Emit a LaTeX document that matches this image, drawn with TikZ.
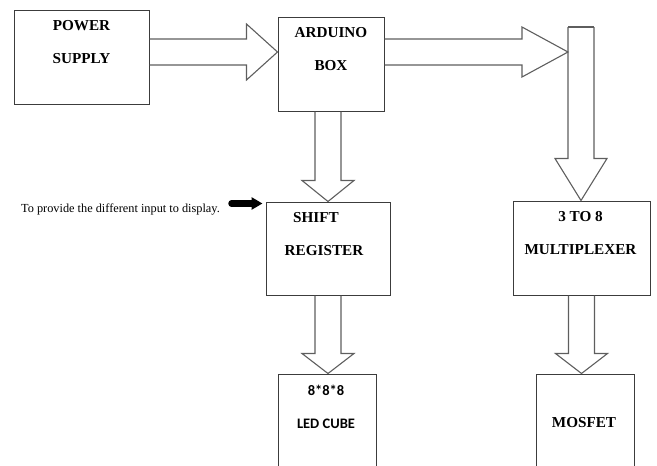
\documentclass[tikz,border=0pt]{standalone}
\usepackage{fontspec}
\setmainfont{Liberation Serif}
\newfontfamily\calib{Carlito}
\usepackage{xcolor}
\usepackage{tikz}
\usetikzlibrary{calc,arrows.meta}
\definecolor{edgex}{HTML}{3C3C3C}
\definecolor{shaftx}{HTML}{5E5E5E}
\tikzset{
  blk/.style={draw=edgex,line width=1pt,inner sep=0pt},
  lbl/.style={font=\fontsize{15.2}{33}\selectfont\bfseries,align=center,inner sep=0pt,anchor=north},
  fatarr/.style={draw=shaftx,line width=1.1pt,line join=miter},
  pointer/.style={-{Triangle[length=11pt,width=12pt]},line width=6.5pt,line cap=round,black,shorten >=3pt}
}
% horizontal block arrow: start, tip, head length, head half width
\newcommand{\harr}[4]{%
  \draw[fatarr] let \p1=(#1), \p2=(#2) in
    (\x1,\y1+13pt) -- (\x2-#3,\y1+13pt) -- (\x2-#3,\y1+#4) -- (\x2,\y1)
    -- (\x2-#3,\y1-#4) -- (\x2-#3,\y1-13pt) -- (\x1,\y1-13pt);}
% vertical block arrow (downwards)
\newcommand{\varr}[4]{%
  \draw[fatarr] let \p1=(#1), \p2=(#2) in
    (\x1-13pt,\y1) -- (\x1-13pt,\y2+#3) -- (\x1-#4,\y2+#3) -- (\x1,\y2)
    -- (\x1+#4,\y2+#3) -- (\x1+13pt,\y2+#3) -- (\x1+13pt,\y1);}

\begin{document}
\begin{tikzpicture}[x=1pt,y=-1pt]
\useasboundingbox (0,0) rectangle (657,466);
\clip (0,0) rectangle (657,466);

% blocks
\node[blk,minimum width=135,minimum height=94] (ps) at (81.5,57) {};
\node[blk,minimum width=106,minimum height=94] (ard) at (331,64) {};
\node[blk,minimum width=124,minimum height=93] (sr) at (328,248.5) {};
\node[blk,minimum width=137,minimum height=94] (mux) at (581.5,248) {};
\node[blk,minimum width=98,minimum height=102] (led) at (327,425) {};
\node[blk,minimum width=98,minimum height=102] (mos) at (585,425) {};

\node[lbl] (psT) at ($(ps.north)+(0,11)$) {POWER\\SUPPLY};
\node[lbl] (ardT) at ($(ard.north)+(0,11)$) {ARDUINO\\BOX};
\node[lbl] (srT) at ($(sr.north)+(-4,11)$) {SHIFT\hspace*{16pt}\\REGISTER};
\node[lbl] (muxT) at ($(mux.north)+(-1,10.5)$) {3 TO 8\\MULTIPLEXER};
\node[lbl,font=\fontsize{14.5}{33}\selectfont\calib\bfseries] (ledT) at ($(led.north)+(-1,11)$) {8*8*8\\LED CUBE};
\node[lbl] (mosT) at ($(mos.north)+(-1,44)$) {MOSFET};

\node[inner sep=0pt,anchor=base west,font=\fontsize{12.3}{14}\selectfont] (note) at (21,212) {To provide the different input to display.};
\coordinate (ptr) at ($(sr.north west)+(-34,2)$);
\draw[pointer] (ptr) -- (ptr -| sr.west);

% block arrows
\coordinate (lvl) at (0,52);
\coordinate (vtop) at (581,27);
\harr{ps.east |- lvl}{ard.west |- lvl}{31pt}{28pt}
\harr{ard.east |- lvl}{$(vtop |- lvl)+(-13,0)$}{46pt}{25pt}
\varr{vtop}{mux.north}{42pt}{26pt}
\draw[fatarr] ([xshift=-13pt]vtop) -- ([xshift=13pt]vtop);
\varr{sr.north |- ard.south}{sr.north}{21pt}{26pt}
\varr{sr.south}{led.north}{20pt}{26pt}
\varr{mux.south}{mos.north}{20pt}{26pt}
\end{tikzpicture}
\end{document}
